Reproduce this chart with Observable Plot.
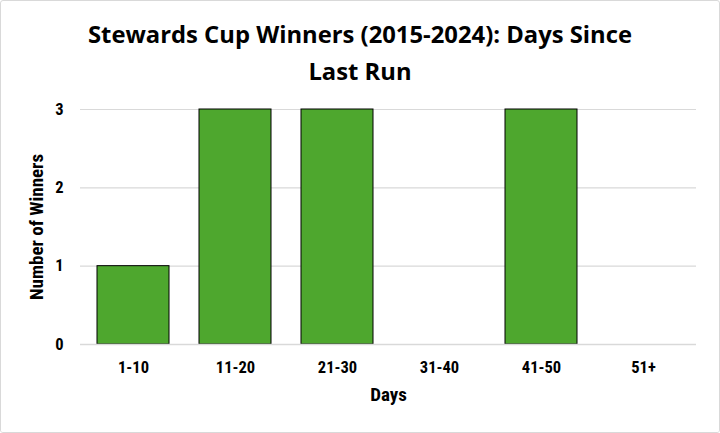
<!DOCTYPE html>
<html><head><meta charset="utf-8">
<script src="https://cdn.jsdelivr.net/npm/d3@7"></script>
<script src="https://cdn.jsdelivr.net/npm/@observablehq/plot@0.6"></script>
<style>
html,body{margin:0;padding:0;background:#fff;}
#wrap{width:718px;height:431px;border:1px solid #d9d9d9;border-radius:3px;overflow:hidden;}
#title{height:91px;box-sizing:border-box;padding-top:15px;text-align:center;font-family:"Open Sans","Liberation Sans",sans-serif;font-weight:700;font-size:23.8px;line-height:37px;color:#000;}
svg text{font-family:"Liberation Sans Narrow","Roboto Condensed","Liberation Sans",sans-serif;font-weight:700;}
svg g[aria-label$="tick label"] text, .ticklab text{font-size:16.5px !important;}
.axtitle text{font-size:19px !important;}
</style>
</head><body>
<div id="wrap"><div id="title">Stewards Cup Winners (2015-2024): Days Since<br>Last Run</div><div id="chart"></div></div>
<script>
const categories = ["1-10","11-20","21-30","31-40","41-50","51+"];
const winners = [1,3,3,0,3,0];
const yTicks = [0,1,2,3];
const xTitle = "Days";
const yTitle = "Number of Winners";
const data = categories.map((c,i)=>({days:c, n:winners[i]}));
const chart = Plot.plot({
  width:718, height:340,
  marginTop:17, marginBottom:88, marginLeft:79, marginRight:23,
  style:{fontSize:"15px", color:"#000", background:"#fff"},
  x:{domain:categories, paddingInner:0.29, paddingOuter:0.145},
  y:{domain:[0,3]},
  marks:[
    Plot.gridY(yTicks,{stroke:"#d9d9d9", strokeOpacity:1, strokeWidth:1.2}),
    Plot.barY(data.filter(d=>d.n>0),{x:"days", y:"n", fill:"#4EA72E", stroke:"#000", strokeWidth:1}),
    Plot.ruleY([0],{stroke:"#d9d9d9", strokeWidth:1.5}),
    Plot.axisX({tickSize:0, tickPadding:17, label:null, fill:"#000", className:"ticklab"}),
    Plot.axisY(yTicks,{tickSize:0, tickPadding:17, label:null, fill:"#000", className:"ticklab", tickFormat:d3.format("d")}),
    Plot.text([xTitle],{frameAnchor:"bottom", dy:56, fill:"#000", className:"axtitle"}),
    Plot.text([yTitle],{frameAnchor:"left", textAnchor:"middle", rotate:-90, dx:-44, fill:"#000", className:"axtitle"})
  ]
});
document.getElementById("chart").appendChild(chart);
</script>
</body></html>
